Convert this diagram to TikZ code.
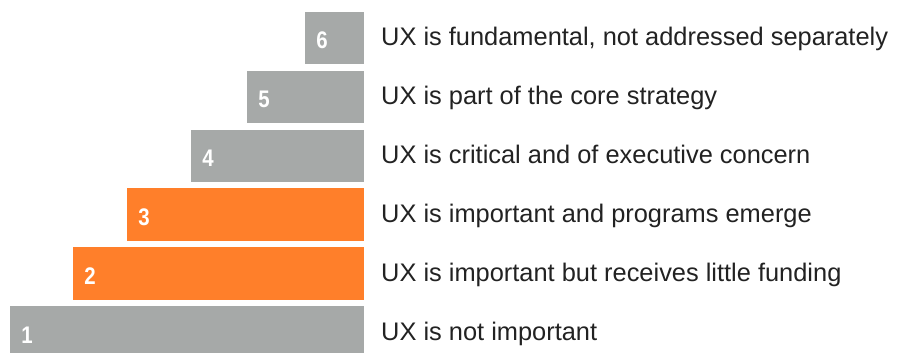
\documentclass[tikz,border=0pt]{standalone}
\usepackage{fontspec}
\setmainfont{Liberation Sans}
\usepackage{tikz}
\definecolor{bargrey}{HTML}{A6A9A8}
\definecolor{barorange}{HTML}{FF7F2A}
\definecolor{textdark}{HTML}{222222}
\tikzset{
  levelnum/.style={anchor=base,text=white,inner sep=0pt,font=\fontsize{24}{28}\selectfont\bfseries},
  leveltxt/.style={anchor=base west,text=textdark,inner sep=0pt,font=\fontsize{25.4}{30}\selectfont}
}

\begin{document}
\begin{tikzpicture}[x=1pt,y=-1pt]
\useasboundingbox (0,0) rectangle (897,353);
% bars from the bottom (1) up to the top (6)
\foreach \n/\lft/\col/\txt in {1/10/bargrey/{UX is not important},
  2/73/barorange/{UX is important but receives little funding},
  3/127/barorange/{UX is important and programs emerge},
  4/191/bargrey/{UX is critical and of executive concern},
  5/247/bargrey/{UX is part of the core strategy},
  6/305/bargrey/{UX is fundamental, not addressed separately}}
{
  \pgfmathsetmacro\top{12+(6-\n)*58.8}
  \fill[\col] (\lft,\top) rectangle (364,\top+52.5);
  \node[levelnum,xscale=0.85] (num\n) at (\lft+17,\top+37) {\n};
  \node[leveltxt] (lbl\n) at (381,\top+34) {\txt};
}
\end{tikzpicture}
\end{document}
